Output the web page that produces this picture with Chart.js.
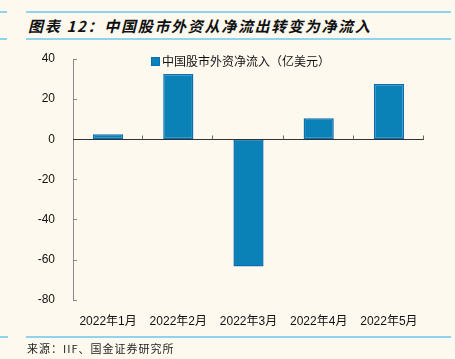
<!DOCTYPE html>
<html>
<head>
<meta charset="utf-8">
<script src="https://cdn.jsdelivr.net/npm/chart.js@4.4.1/dist/chart.umd.min.js"></script>
<style>
  html, body {
    margin: 0;
    padding: 0;
    background: #fdf9ef;
  }
  #wrap {
    position: relative;
    width: 455px;
    height: 359px;
    background: #fdf9ef;
    overflow: hidden;
  }
  .rule {
    position: absolute;
    height: 2px;
    background: #8fd3ef;
  }
  #title {
    position: absolute;
    left: 28px;
    top: 15px;
    font-family: "Noto Sans CJK SC", sans-serif;
    font-size: 15px;
    font-weight: bold;
    font-style: italic;
    letter-spacing: 1.7px;
    color: #111;
    white-space: nowrap;
  }
  #source {
    position: absolute;
    left: 27px;
    top: 340px;
    font-family: "Noto Sans CJK SC", sans-serif;
    font-size: 11px;
    letter-spacing: 1px;
    color: #222;
    white-space: nowrap;
  }
  #legend {
    position: absolute;
    left: 151px;
    top: 52px;
    font-family: "Liberation Sans", "Noto Sans CJK SC", sans-serif;
    font-size: 12px;
    color: #111;
    white-space: nowrap;
  }
  #legend span.box {
    display: inline-block;
    width: 7px;
    height: 7px;
    background: #0a82b8;
    border: 1px solid #0b6db5;
    margin-right: 2px;
    vertical-align: 0px;
  }
  #myChart {
    position: absolute;
    left: 0;
    top: 0;
  }
</style>
</head>
<body>
<div id="wrap">
  <div class="rule" style="left:0;width:7px;top:11px;"></div>
  <div class="rule" style="left:26px;width:425px;top:11px;"></div>
  <div id="title">图表 12：中国股市外资从净流出转变为净流入</div>
  <div class="rule" style="left:0;width:7px;top:38px;"></div>
  <div class="rule" style="left:26px;width:425px;top:38px;"></div>
  <canvas id="myChart" width="455" height="359"></canvas>
  <div id="legend"><span class="box"></span>中国股市外资净流入（亿美元）</div>
  <div class="rule" style="left:0;width:8px;top:336px;"></div>
  <div class="rule" style="left:26px;width:425px;top:336px;"></div>
  <div id="source">来源：IIF、国金证券研究所</div>
</div>
<script>
const months = ["2022年1月", "2022年2月", "2022年3月", "2022年4月", "2022年5月"];
const netInflow = [2.5, 32.5, -63.5, 10.5, 27.5];
const yTicks = [40, 20, 0, -20, -40, -60, -80];
const seriesName = "中国股市外资净流入（亿美元）";

// zero line with little ticks between the months, plus inward ticks on the y axis
const axisMarks = {
  id: "axisMarks",
  afterDatasetsDraw(chart) {
    const { ctx, chartArea, scales } = chart;
    const x = scales.x;
    const y = scales.y;
    const y0 = Math.round(y.getPixelForValue(0)) + 0.5;
    ctx.save();
    ctx.lineWidth = 1;

    ctx.strokeStyle = "#8a8a8a";
    yTicks.forEach((v) => {
      const py = Math.round(y.getPixelForValue(v)) + 0.5;
      ctx.beginPath();
      ctx.moveTo(chartArea.left, py);
      ctx.lineTo(chartArea.left + 4, py);
      ctx.stroke();
    });

    ctx.strokeStyle = "#333";
    ctx.beginPath();
    ctx.moveTo(chartArea.left, y0);
    ctx.lineTo(chartArea.right, y0);
    ctx.stroke();

    ctx.strokeStyle = "#666";
    for (let i = 1; i <= months.length; i++) {
      const px = i < months.length
        ? (x.getPixelForValue(i - 1) + x.getPixelForValue(i)) / 2
        : chartArea.right;
      const rx = Math.round(px) - 0.5;
      ctx.beginPath();
      ctx.moveTo(rx, y0);
      ctx.lineTo(rx, y0 - 4);
      ctx.stroke();
    }
    ctx.restore();
  },
};

const ctx = document.getElementById("myChart").getContext("2d");
const myChart = new Chart(ctx, {
  type: "bar",
  data: {
    labels: months,
    datasets: [
      {
        label: seriesName,
        data: netInflow,
        backgroundColor: "#0a82b8",
        borderColor: "#0b6db5",
        borderWidth: 1.5,
        borderSkipped: false,
        barPercentage: 0.43,
        categoryPercentage: 1,
      },
    ],
  },
  options: {
    responsive: false,
    animation: false,
    layout: {
      padding: { left: 0, right: 31, top: 59, bottom: 23 },
    },
    plugins: {
      legend: { display: false },
      tooltip: { enabled: false },
    },
    scales: {
      x: {
        grid: { display: false },
        border: { display: false },
        ticks: {
          color: "#111",
          padding: 7,
          font: { family: "'Liberation Sans', 'Noto Sans CJK SC', sans-serif", size: 12 },
        },
      },
      y: {
        min: -80,
        max: 40,
        afterBuildTicks: (scale) => {
          scale.ticks = yTicks.map((v) => ({ value: v }));
        },
        afterFit: (scale) => {
          scale.width = 73;
        },
        grid: { display: false },
        border: { display: true, color: "#8a8a8a", width: 1 },
        ticks: {
          color: "#111",
          padding: 10,
          font: { family: "'Liberation Sans', sans-serif", size: 12 },
        },
      },
    },
  },
  plugins: [axisMarks],
});
</script>
</body>
</html>
